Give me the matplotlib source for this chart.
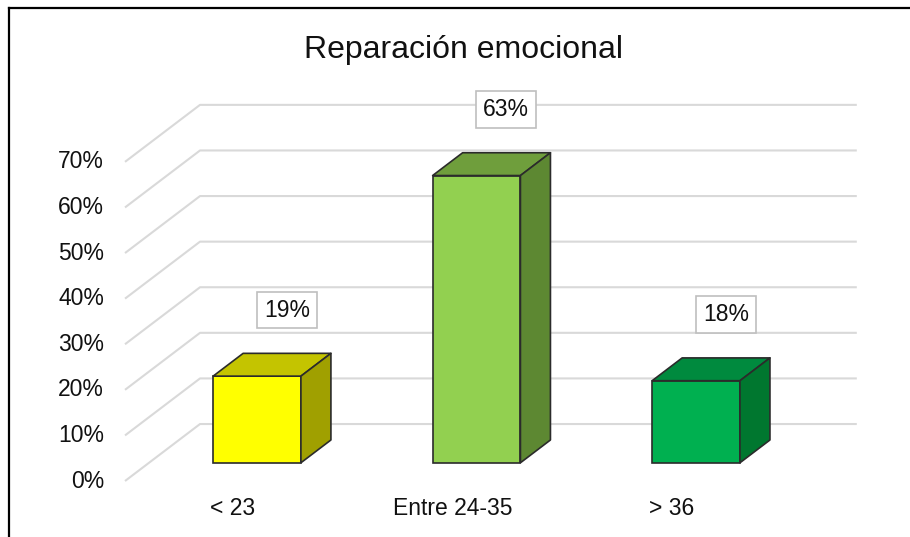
import matplotlib
matplotlib.use('Agg')
import matplotlib.pyplot as plt
from matplotlib.patches import Polygon, Rectangle
from matplotlib.lines import Line2D

plt.rcParams['font.family'] = ['Liberation Sans', 'DejaVu Sans']

# datos
categorias = ['< 23', 'Entre 24-35', '> 36']
valores = [19, 63, 18]
etiquetas = ['19%', '63%', '18%']
ticks_y = [0, 10, 20, 30, 40, 50, 60, 70]

# colores: frente, arriba, lado
col_frente = ['#FFFF00', '#92D050', '#00B050']
col_arriba = ['#C4C400', '#6F9E3C', '#008A3E']
col_lado = ['#A0A000', '#5D8832', '#00772F']

fig = plt.figure(figsize=(9.1, 5.37), dpi=100)
ax = fig.add_axes([0, 0, 1, 1])
ax.set_xlim(-1.0615, 3.084)
ax.set_ylim(-12.28, 105.5)
ax.axis('off')

# profundidad (efecto 3D)
dx, dy = 0.3417, 12.5
ancho = 0.4
d0, prof = 0.32, 0.4
x_izq, x_der = -0.492, 2.5

# rejilla
for t in ticks_y:
    ax.plot([x_izq, x_izq + dx, x_der + dx], [t, t + dy, t + dy],
            color='#D9D9D9', lw=1.5, zorder=1, solid_capstyle='butt')
    ax.text(-0.588, t, f'{t}%', ha='right', va='center', fontsize=16.5, color='#111111')

# barras
for i, v in enumerate(valores):
    xl = i - ancho / 2 + d0 * dx
    xr = xl + ancho
    yb = d0 * dy
    yt = yb + v
    bx, by = prof * dx, prof * dy
    ax.add_patch(Rectangle((xl, yb), ancho, v, facecolor=col_frente[i],
                           edgecolor='#2B2B2B', lw=1.2, zorder=3))
    ax.add_patch(Polygon([(xl, yt), (xr, yt), (xr + bx, yt + by), (xl + bx, yt + by)],
                         closed=True, facecolor=col_arriba[i], edgecolor='#2B2B2B',
                         lw=1.2, zorder=3, joinstyle='round'))
    ax.add_patch(Polygon([(xr, yb), (xr + bx, yb + by), (xr + bx, yt + by), (xr, yt)],
                         closed=True, facecolor=col_lado[i], edgecolor='#2B2B2B',
                         lw=1.2, zorder=3, joinstyle='round'))
    ax.text(i + 0.245, v + 18.5, etiquetas[i], ha='center', va='center', fontsize=16.5,
            color='#111111', zorder=4,
            bbox=dict(boxstyle='square,pad=0.3', facecolor='white', edgecolor='#BFBFBF', lw=1.2))
    ax.text(i, -6.1, categorias[i], ha='center', va='center', fontsize=16.5, color='#111111')

fig.text(0.509, 0.907, 'Reparación emocional', ha='center', va='center', fontsize=23, color='#111111')

# borde
fig.add_artist(Line2D([9 / 910, 9 / 910], [0, 1 - 8 / 537], color='black', lw=1.6,
                      transform=fig.transFigure))
fig.add_artist(Line2D([9 / 910, 1], [1 - 8 / 537, 1 - 8 / 537], color='black', lw=1.6,
                      transform=fig.transFigure))

fig.savefig('out.png', dpi=100)
